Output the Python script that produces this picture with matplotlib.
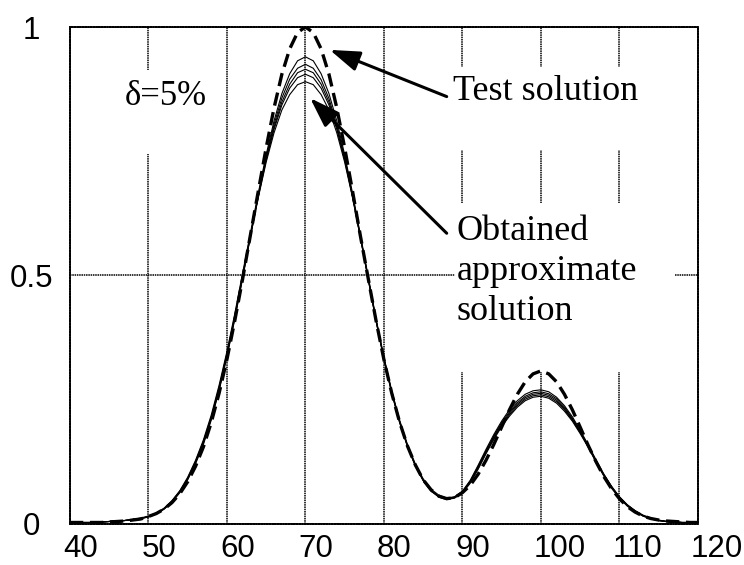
# Test solution vs obtained approximate solutions (delta = 5%)
import matplotlib.pyplot as plt
import matplotlib.transforms as mtransforms
from matplotlib.patches import Rectangle

x = list(range(40, 121))

test_sol = [0.003, 0.003, 0.003, 0.003, 0.003, 0.004, 0.005, 0.006, 0.008, 0.010,
            0.015, 0.021, 0.030, 0.043, 0.061, 0.085, 0.116, 0.155, 0.204, 0.263,
            0.331, 0.409, 0.493, 0.582, 0.670, 0.757, 0.837, 0.905, 0.956, 0.989,
            1.000, 0.989, 0.956, 0.905, 0.837, 0.757, 0.670, 0.580, 0.494, 0.409,
            0.331, 0.263, 0.205, 0.157, 0.119, 0.089, 0.069, 0.056, 0.051, 0.053,
            0.063, 0.078, 0.100, 0.128, 0.160, 0.195, 0.230, 0.261, 0.286, 0.302,
            0.308, 0.302, 0.286, 0.261, 0.230, 0.195, 0.159, 0.126, 0.096, 0.071,
            0.051, 0.035, 0.024, 0.016, 0.011, 0.008, 0.006, 0.005, 0.004, 0.003, 0.003]

approx1 = [0.003, 0.003, 0.003, 0.003, 0.004, 0.005, 0.006, 0.007, 0.009, 0.012,
           0.016, 0.022, 0.032, 0.047, 0.067, 0.094, 0.128, 0.169, 0.219, 0.279,
           0.347, 0.423, 0.505, 0.586, 0.666, 0.743, 0.811, 0.866, 0.906, 0.932,
           0.940, 0.932, 0.906, 0.866, 0.811, 0.743, 0.666, 0.582, 0.498, 0.413,
           0.336, 0.268, 0.209, 0.160, 0.121, 0.091, 0.070, 0.058, 0.052, 0.055,
           0.066, 0.088, 0.118, 0.150, 0.180, 0.207, 0.230, 0.248, 0.261, 0.268,
           0.270, 0.266, 0.255, 0.238, 0.216, 0.189, 0.160, 0.130, 0.101, 0.076,
           0.055, 0.039, 0.027, 0.018, 0.012, 0.008, 0.005, 0.004, 0.003, 0.003, 0.003]

approx2 = [0.003, 0.003, 0.003, 0.003, 0.004, 0.005, 0.006, 0.007, 0.009, 0.011,
           0.015, 0.021, 0.031, 0.046, 0.066, 0.092, 0.126, 0.166, 0.215, 0.275,
           0.343, 0.419, 0.501, 0.582, 0.662, 0.738, 0.804, 0.857, 0.895, 0.917,
           0.925, 0.917, 0.894, 0.856, 0.803, 0.737, 0.661, 0.579, 0.495, 0.411,
           0.334, 0.266, 0.207, 0.158, 0.119, 0.089, 0.068, 0.056, 0.051, 0.054,
           0.065, 0.086, 0.116, 0.147, 0.177, 0.204, 0.226, 0.244, 0.257, 0.264,
           0.266, 0.262, 0.252, 0.235, 0.213, 0.187, 0.158, 0.128, 0.100, 0.075,
           0.054, 0.038, 0.026, 0.017, 0.011, 0.007, 0.005, 0.004, 0.003, 0.003, 0.003]

approx3 = [0.003, 0.003, 0.003, 0.003, 0.004, 0.005, 0.006, 0.007, 0.009, 0.011,
           0.015, 0.021, 0.031, 0.045, 0.065, 0.091, 0.124, 0.164, 0.213, 0.272,
           0.340, 0.416, 0.498, 0.580, 0.660, 0.735, 0.798, 0.849, 0.885, 0.908,
           0.915, 0.908, 0.885, 0.849, 0.798, 0.735, 0.660, 0.578, 0.494, 0.410,
           0.333, 0.265, 0.206, 0.157, 0.118, 0.088, 0.067, 0.055, 0.050, 0.053,
           0.064, 0.085, 0.114, 0.145, 0.175, 0.201, 0.223, 0.241, 0.254, 0.261,
           0.263, 0.259, 0.249, 0.232, 0.211, 0.185, 0.157, 0.127, 0.099, 0.074,
           0.054, 0.038, 0.026, 0.017, 0.011, 0.007, 0.005, 0.004, 0.003, 0.003, 0.003]

approx4 = [0.003, 0.003, 0.003, 0.003, 0.004, 0.005, 0.006, 0.007, 0.009, 0.011,
           0.014, 0.020, 0.030, 0.044, 0.064, 0.090, 0.123, 0.162, 0.211, 0.270,
           0.338, 0.414, 0.496, 0.579, 0.659, 0.732, 0.794, 0.843, 0.877, 0.898,
           0.905, 0.898, 0.877, 0.843, 0.794, 0.732, 0.659, 0.577, 0.493, 0.409,
           0.332, 0.264, 0.205, 0.156, 0.117, 0.088, 0.067, 0.055, 0.050, 0.053,
           0.063, 0.084, 0.112, 0.143, 0.172, 0.198, 0.220, 0.238, 0.251, 0.258,
           0.260, 0.256, 0.246, 0.230, 0.209, 0.184, 0.156, 0.126, 0.098, 0.073,
           0.053, 0.037, 0.025, 0.016, 0.011, 0.007, 0.005, 0.004, 0.003, 0.003, 0.003]

approx5 = [0.003, 0.003, 0.003, 0.003, 0.004, 0.005, 0.006, 0.007, 0.009, 0.011,
           0.014, 0.020, 0.030, 0.044, 0.063, 0.089, 0.121, 0.160, 0.209, 0.268,
           0.336, 0.412, 0.494, 0.579, 0.657, 0.728, 0.787, 0.833, 0.864, 0.884,
           0.890, 0.884, 0.864, 0.833, 0.787, 0.728, 0.657, 0.577, 0.492, 0.408,
           0.331, 0.263, 0.204, 0.156, 0.117, 0.087, 0.066, 0.054, 0.049, 0.052,
           0.062, 0.082, 0.110, 0.141, 0.170, 0.196, 0.217, 0.235, 0.248, 0.255,
           0.257, 0.253, 0.243, 0.227, 0.207, 0.182, 0.155, 0.125, 0.097, 0.072,
           0.052, 0.036, 0.025, 0.016, 0.010, 0.007, 0.005, 0.004, 0.003, 0.003, 0.003]

approx_all = [approx1, approx2, approx3, approx4, approx5]

xticks = [40, 50, 60, 70, 80, 90, 100, 110, 120]
yticks = [0, 0.5, 1]
ytick_labels = ['0', '0.5', '1']

plt.rcParams['font.family'] = 'Liberation Sans'

fig = plt.figure(figsize=(7.44, 5.65), dpi=100)
ax = fig.add_axes([0.094, 0.0726, 0.844, 0.8796])

# approximate solutions (thin) and the test solution (thick dashed)
for yy in approx_all:
    ax.plot(x, yy, color='k', lw=0.8, zorder=2)
ax.plot(x, test_sol, color='k', lw=2.4, dashes=(4, 2), zorder=3)

ax.set_xlim(40, 120)
ax.set_ylim(0, 1)
ax.set_xticks(xticks)
ax.set_yticks(yticks)
ax.set_yticklabels(ytick_labels)
ax.tick_params(axis='both', length=0, labelsize=22.5)
ax.tick_params(axis='x', pad=7)
ax.tick_params(axis='y', pad=28)
for lab in ax.get_yticklabels():
    lab.set_horizontalalignment('center')
# x labels start just left of their tick, like the original
shift = mtransforms.ScaledTranslation(-7 / 100, 0, fig.dpi_scale_trans)
for lab in ax.get_xticklabels():
    lab.set_horizontalalignment('left')
    lab.set_transform(lab.get_transform() + shift)

ax.set_axisbelow(True)
ax.grid(True, color='k', lw=1.1, linestyle=(0, (1, 0.5)))
for sp in ax.spines.values():
    sp.set_linestyle((0, (1, 0.5)))
    sp.set_linewidth(1.3)

# white boxes behind labels that hide the grid
for bx in [(0.076, 0.744, 0.150, 0.169), (0.605, 0.753, 0.303, 0.167), (0.613, 0.306, 0.350, 0.340)]:
    ax.add_patch(Rectangle(bx[:2], bx[2], bx[3], transform=ax.transAxes,
                           facecolor='white', edgecolor='none', zorder=1))

serif = 'Liberation Serif'
ax.text(47.0, 0.843, 'δ=5%', fontsize=25, family=serif, va='baseline', zorder=4)
ax.text(88.8, 0.853, 'Test solution', fontsize=26, family=serif, va='baseline', zorder=4)
ax.text(89.3, 0.41, 'Obtained\napproximate\nsolution', fontsize=26, family=serif,
        va='baseline', linespacing=1.28, zorder=4)

arw = dict(arrowstyle='-|>,head_length=0.65,head_width=0.22', mutation_scale=28,
           lw=2.2, color='k', shrinkA=0, shrinkB=0)
ax.annotate('', xy=(73.1, 0.954), xytext=(88.0, 0.860), arrowprops=arw, zorder=5)
ax.annotate('', xy=(70.6, 0.857), xytext=(88.0, 0.585), arrowprops=arw, zorder=5)

plt.savefig('out.png', dpi=100)
